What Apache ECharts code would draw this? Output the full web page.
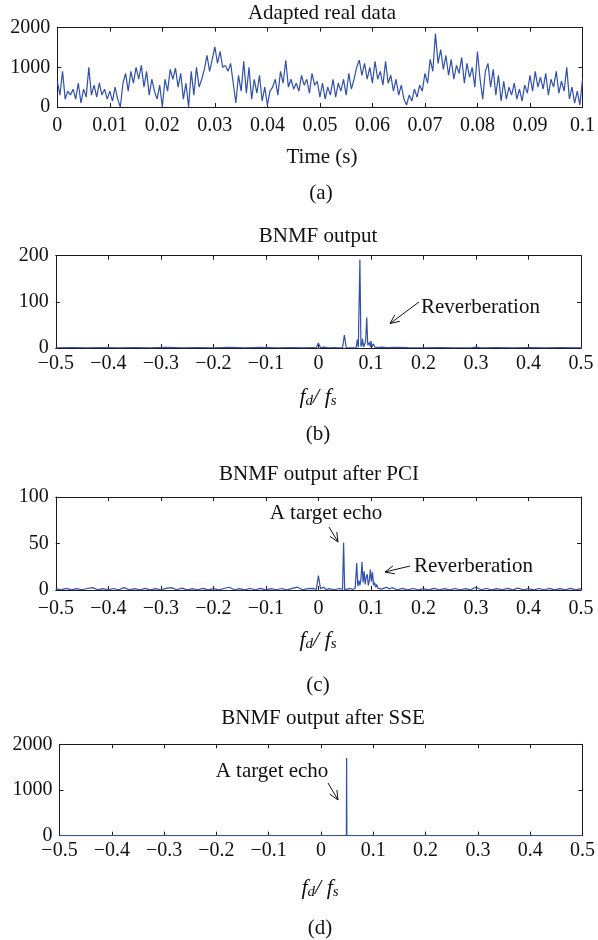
<!DOCTYPE html>
<html><head><meta charset="utf-8">
<script src="https://cdn.jsdelivr.net/npm/echarts/dist/echarts.min.js"></script>
<style>html,body{margin:0;padding:0;background:#fff}#c{width:598px;height:940px}</style>
</head><body><div id="c"></div><script>
// ---------- DATA ----------
const timeStep = 0.0005; // s between samples of panel (a)
const realData = [
650,300,900,200,400,300,450,200,600,100,
450,250,1000,300,550,250,600,300,450,200,
400,150,500,200,0,600,850,400,900,600,
1000,700,1050,500,900,300,700,400,200,550,
0,700,400,950,700,980,500,850,200,600,
0,900,300,1000,500,700,950,1300,900,1200,
1520,1100,1400,1000,1050,900,1100,600,100,800,
400,1150,350,1000,200,700,350,800,150,500,
50,400,500,700,300,900,600,1180,500,700,
450,600,400,800,550,700,350,850,550,650,
250,600,200,500,300,700,250,600,400,700,
300,850,450,700,1000,1180,800,1100,700,1000,
600,1150,700,900,550,1150,600,800,400,700,
300,550,200,50,300,150,450,250,550,400,
850,600,1200,900,1850,1100,1450,950,1300,800,
1200,700,1050,850,1250,600,1100,750,1000,500,
1400,700,200,900,1100,500,950,300,800,150,
650,200,500,300,600,200,450,150,550,350,
800,400,900,500,750,450,850,300,700,500,
900,350,650,400,1000,200,500,100,400,50,
700
];

const freqB = [-0.5,-0.47,-0.44,-0.41,-0.38,-0.35,-0.32,-0.29,-0.26,-0.23,
-0.2,-0.17,-0.14,-0.11,-0.08,-0.05,-0.03,-0.01,-0.004,0,
0.004,0.01,0.02,0.03,0.04,0.046,0.0495,0.053,0.06,0.068,
0.072,0.074,0.076,0.077,0.079,0.081,0.083,0.084,0.086,0.088,
0.09,0.092,0.094,0.096,0.097,0.099,0.1,0.102,0.104,0.105,
0.107,0.11,0.113,0.12,0.13,0.15,0.17,0.2,0.23,0.26,
0.29,0.3,0.31,0.34,0.37,0.4,0.43,0.46,0.5];
const ampB = [0.5,1,0.5,1,0.5,1,0.5,1.5,0.5,1,
0.5,1.5,0.5,1.5,0.5,1,0.5,1,0.5,11,
0.5,2,0.5,1,0.5,0.5,28,0.5,0.5,0.5,
1,18,1,5,192,3,8,20,2,8,
14,66,6,3,12,2,15,3,5,9,
2,4,1,2,1,1.5,1,0.5,1,0.5,
0.5,2,0.5,1,0.5,1,0.5,1,0.5];

const freqC = [-0.5,-0.49,-0.48,-0.47,-0.46,-0.45,-0.44,-0.43,-0.42,-0.41,
-0.4,-0.39,-0.38,-0.37,-0.36,-0.35,-0.34,-0.33,-0.32,-0.31,
-0.3,-0.29,-0.28,-0.27,-0.26,-0.25,-0.24,-0.23,-0.22,-0.21,
-0.2,-0.19,-0.18,-0.17,-0.16,-0.15,-0.14,-0.13,-0.12,-0.11,
-0.1,-0.09,-0.08,-0.07,-0.06,-0.05,-0.04,-0.03,-0.02,-0.01,
-0.004,0,0.004,0.01,0.015,0.02,0.03,0.04,0.046,0.048,
0.05,0.055,0.06,0.065,0.07,0.072,0.073,0.075,0.077,0.079,
0.081,0.083,0.085,0.087,0.089,0.091,0.093,0.095,0.097,0.099,
0.101,0.103,0.105,0.107,0.109,0.111,0.113,0.116,0.12,0.125,
0.13,0.135,0.14,0.15,0.16,0.17,0.18,0.19,0.2,0.21,
0.22,0.23,0.24,0.25,0.26,0.27,0.28,0.29,0.3,0.31,
0.32,0.33,0.34,0.35,0.36,0.37,0.38,0.39,0.4,0.41,
0.42,0.43,0.44,0.45,0.46,0.47,0.48,0.49,0.5];
const ampC = [1.5,0.2,1.8,0.2,1.5,0.3,1.6,2.5,0.2,1.5,
0.2,1.6,0.3,2.5,0.2,1.5,0.3,1.8,0.2,1.5,
0.3,1.8,2.5,0.3,2,0.2,1.5,0.3,1.8,0.2,
1.5,0.2,1.6,3,0.3,1.5,0.2,1.6,0.3,1.8,
0.2,1.5,0.3,1.6,0.2,1.8,3,0.3,1.5,1.8,
0.5,15.5,1.5,3,0.3,1.5,0.3,1.6,0.5,51,
0.5,1,1.8,0.5,2,3,29,4,10,5,
12,30,8,20,6,14,17,5,10,22,
9,19,5,8,3,6,2,3,1,2,
3,1,2.5,0.3,1.8,0.2,1.6,0.3,1.5,0.2,
1.8,0.3,1.5,0.2,1.6,0.3,1.5,0.2,3,0.3,
1.6,0.2,1.5,0.3,1.8,0.2,2,0.3,1.5,0.2,
1.6,0.3,1.8,0.2,1.5,0.3,1.8,0.2,1.5];

const freqD = [-0.5,0.0485,0.049,0.0495,0.5];
const ampD = [0,0,1700,0,0];

const timeTicks = {min:0, max:0.1, interval:0.01};
const freqTicks = {min:-0.5, max:0.5, interval:0.1};

// ---------- CHART ----------
const FONT = '"Liberation Serif", "DejaVu Serif", serif';
const BLUE = '#3050ac';
const AX = '#1a1a1a';
const TICKFS = 20, TXTFS = 21;
const grids = [
  {left:57.3, top:27.7, width:528.7, height:79.3},
  {left:55.8, top:255.7, width:525.2, height:92.3},
  {left:55.8, top:497, width:525.2, height:93},
  {left:59.5, top:744.3, width:527.5, height:91.4}
];
const xMargins = [9, 6, 9, 5];
const xAxis = [], yAxis = [];
function fmtT(v){ return String(+v.toFixed(3)); }
function fmtF(v){ const r = +v.toFixed(2); if (r === 0) return '0'; return (r < 0 ? '\u2212' : '') + String(Math.abs(r)); }
function fmtY(v){ return String(Math.round(v)); }
function axes(gi, xr, xf, yr){
  const line = {show:true, onZero:false, lineStyle:{color:AX, width:1}};
  const tick = {show:true, inside:true, length:4, lineStyle:{color:AX, width:1}};
  const lab = {color:'#111', fontSize:TICKFS, fontFamily:FONT, showMinLabel:true, showMaxLabel:true};
  xAxis.push({type:'value', gridIndex:gi, position:'bottom', min:xr.min, max:xr.max, interval:xr.interval,
    axisLine:line, axisTick:tick, splitLine:{show:false}, axisLabel:Object.assign({formatter:xf, margin:xMargins[gi]}, lab)});
  xAxis.push({type:'value', gridIndex:gi, position:'top', min:xr.min, max:xr.max, interval:xr.interval,
    axisLine:line, axisTick:tick, splitLine:{show:false}, axisLabel:{show:false}});
  yAxis.push({type:'value', gridIndex:gi, position:'left', min:yr[0], max:yr[1], interval:yr[2],
    axisLine:line, axisTick:tick, splitLine:{show:false}, axisLabel:Object.assign({formatter:fmtY, margin:7}, lab)});
  yAxis.push({type:'value', gridIndex:gi, position:'right', min:yr[0], max:yr[1], interval:yr[2],
    axisLine:line, axisTick:tick, splitLine:{show:false}, axisLabel:{show:false}});
}
axes(0, timeTicks, fmtT, [0,2000,1000]);
axes(1, freqTicks, fmtF, [0,200,100]);
axes(2, freqTicks, fmtF, [0,100,50]);
axes(3, freqTicks, fmtF, [0,2000,1000]);

function zip(a,b){ return a.map((v,i)=>[v,b[i]]); }
const seriesA = realData.map((v,i)=>[+(i*timeStep).toFixed(4), v]);
function ser(gi, data){
  return {type:'line', xAxisIndex:gi*2, yAxisIndex:gi*2, data:data, showSymbol:false, symbol:'none',
    lineStyle:{color:BLUE, width:1.2}, itemStyle:{color:BLUE}, animation:false, z:3};
}

function txt(x,y,t,size,align){
  return {type:'text', z:10, style:{text:t, x:x, y:y, font:size+'px '+FONT, fill:'#111',
    align:align||'center', textAlign:align||'center', verticalAlign:'middle', textVerticalAlign:'middle'}};
}
function fdfs(x,y){
  return {type:'text', z:10, style:{x:x, y:y, align:'center', textAlign:'center', verticalAlign:'middle', textVerticalAlign:'middle',
    text:'{i|f}{s|d}{i|/ f}{s|s}',
    rich:{i:{fontFamily:FONT, fontStyle:'italic', fontSize:22, fill:'#111', color:'#111'},
          s:{fontFamily:FONT, fontStyle:'italic', fontSize:15, fill:'#111', color:'#111', padding:[8,0,0,0]}}}};
}
function arrow(x1,y1,x2,y2){
  const a=Math.atan2(y2-y1,x2-x1), L=10, w=0.42;
  const p1=[x2-L*Math.cos(a-w), y2-L*Math.sin(a-w)];
  const p2=[x2-L*Math.cos(a+w), y2-L*Math.sin(a+w)];
  const st={stroke:'#111', lineWidth:1, fill:null};
  return [{type:'polyline', z:10, shape:{points:[[x1,y1],[x2,y2]]}, style:st},
          {type:'polyline', z:10, shape:{points:[p1,[x2,y2],p2]}, style:st}];
}

const graphic = [
  txt(322,13,'Adapted real data',TXTFS),
  txt(322,157,'Time (s)',TXTFS),
  txt(321,193,'(a)',TXTFS),
  txt(318,236,'BNMF output',TXTFS),
  fdfs(318,397),
  txt(318,434,'(b)',TXTFS),
  txt(421,307,'Reverberation',TXTFS,'left'),
  ...arrow(419,302,390,323.5),
  txt(319,474,'BNMF output after PCI',TXTFS),
  txt(326,513,'A target echo',TXTFS),
  ...arrow(329,527,338,542),
  txt(414,566,'Reverberation',TXTFS,'left'),
  ...arrow(410,566,385,572),
  fdfs(318,640),
  txt(318,685,'(c)',TXTFS),
  txt(323,718,'BNMF output after SSE',TXTFS),
  txt(272,771,'A target echo',TXTFS),
  ...arrow(328,783,338,800),
  fdfs(320,888),
  txt(320,928,'(d)',TXTFS)
];

const chart = echarts.init(document.getElementById('c'), null, {renderer:'canvas'});
chart.setOption({
  animation:false,
  backgroundColor:'#fff',
  grid:grids,
  xAxis:xAxis,
  yAxis:yAxis,
  series:[ser(0,seriesA), ser(1,zip(freqB,ampB)), ser(2,zip(freqC,ampC)), ser(3,zip(freqD,ampD))],
  graphic:graphic
});
</script></body></html>
